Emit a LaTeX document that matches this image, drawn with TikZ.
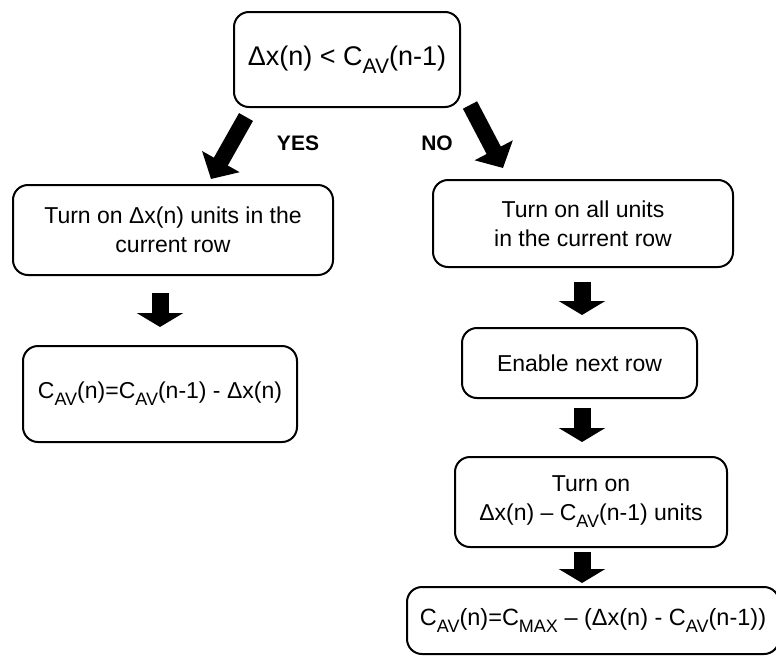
\documentclass[tikz,border=0pt]{standalone}
\usepackage{fontspec}
\setmainfont{Liberation Sans}
\usetikzlibrary{arrows.meta,calc}
% lowered subscript in the running text font (optional size)
\newcommand\lo[2][18]{\raisebox{-0.3em}{\fontsize{#1}{#1}\selectfont #2}}
\begin{document}
\begin{tikzpicture}[x=1pt,y=-1pt,
  box/.style={draw, line width=2pt, rounded corners=15pt, align=center,
    inner sep=0pt, font=\fontsize{23}{29}\selectfont},
  fat/.style={line width=17pt, -{Triangle[width=46pt,length=14pt]}},
  fatdiag/.style={line width=16pt, -{Triangle[width=42pt,length=20pt]}},
  lbl/.style={font=\fontsize{21}{21}\selectfont\bfseries}]
\useasboundingbox (0,0) rectangle (776,656);

% decision
\node[box, minimum width=226pt, minimum height=95pt,
      font=\fontsize{27}{32}\selectfont] (q) at (347,59.5)
  {Δx(n) < C\lo[21]{AV}(n-1)};

% YES branch
\node[box, minimum width=320pt, minimum height=90pt] (y1) at (173,230)
  {Turn on Δx(n) units in the\\current row};
\node[box, minimum width=274pt, minimum height=96pt] (y2) at (160,394)
  {C\lo{AV}(n)=C\lo{AV}(n-1) - Δx(n)};

% NO branch
\node[box, minimum width=300pt, minimum height=87pt] (n1) at (583,223.5)
  {Turn on all units\\in the current row};
\node[box, minimum width=235pt, minimum height=70pt] (n2) at (579.5,363)
  {Enable next row};
\node[box, minimum width=272pt, minimum height=90pt] (n3) at (591,502)
  {Turn on\\Δx(n) – C\lo{AV}(n-1) units};
\node[box, minimum width=372pt, minimum height=67pt,
      font=\fontsize{23.5}{29}\selectfont] (n4) at (593,620.5)
  {C\lo{AV}(n)=C\lo{MAX} – (Δx(n) - C\lo{AV}(n-1))};

% arrow end points
\coordinate (ys) at (246,117);  \coordinate (ye) at (211,179);
\coordinate (ns) at (470,105);  \coordinate (ne) at (503,168);
\coordinate (l1s) at (160,293); \coordinate (l1e) at (160,327);
\coordinate (r1s) at (582,282); \coordinate (r1e) at (582,315);
\coordinate (r2s) at (582,408); \coordinate (r2e) at (582,442);
\coordinate (r3s) at (582,552); \coordinate (r3e) at (582,583);

\draw[fatdiag] (ys) -- (ye);
\draw[fatdiag] (ns) -- (ne);
\draw[fat] (l1s) -- (l1e);
\draw[fat] (r1s) -- (r1e);
\draw[fat] (r2s) -- (r2e);
\draw[fat] (r3s) -- (r3e);

\node[lbl] (yes) at (298,143) {YES};
\node[lbl] (no) at (437,143) {NO};
\end{tikzpicture}
\end{document}
